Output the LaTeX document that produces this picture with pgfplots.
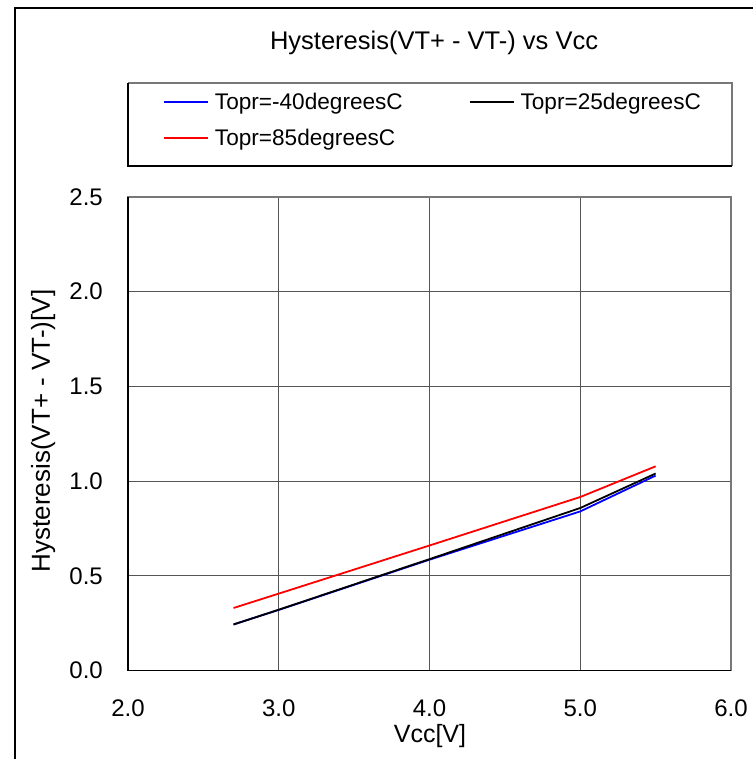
\documentclass[border=0pt]{standalone}
\usepackage{fontspec}
\setmainfont{Liberation Sans}
\usepackage{pgfplots}
\pgfplotsset{compat=1.18}

\definecolor{gridgray}{RGB}{85,85,85}
\definecolor{framegray}{RGB}{120,120,120}

\begin{document}
\begin{tikzpicture}[x=1bp,y=1bp]
\useasboundingbox (0,0) rectangle (753,759);
% outer chart frame (only left and top edges are visible)
\draw[line width=1.5bp] (15,0) -- (15,751) -- (753,751);
% legend frame
\draw[framegray,line width=1.2bp] (128,676) -- (732,676) -- (732,593);
\draw[black,line width=1.2bp] (128,676) -- (128,593) -- (732,593);

\begin{axis}[
    at={(128bp,88.5bp)}, anchor=south west,
    scale only axis, width=603bp, height=473.5bp,
    xmin=2, xmax=6, ymin=0, ymax=2.5,
    xtick={2,3,4,5,6}, ytick={0,0.5,1,1.5,2,2.5},
    major tick length=0pt,
    grid=major,
    grid style={gridgray, line width=1.1bp},
    axis line style={framegray, line width=1.1bp},
    tick label style={font=\fontsize{24bp}{28bp}\selectfont, inner sep=0pt},
    /pgf/number format/assume math mode=true,
    /pgf/number format/.cd, fixed, fixed zerofill, precision=1, /pgfplots/.cd,
    yticklabel style={anchor=east, xshift=-25bp},
    xticklabel style={anchor=north, yshift=-29.5bp},
    title={Hysteresis(VT+ - VT-) vs Vcc},
    title style={font=\fontsize{25.5bp}{30bp}\selectfont, at={(axis description cs:0.5075,1.2999)}, anchor=base, inner sep=0pt},
    xlabel={Vcc[V]},
    xlabel style={font=\fontsize{25bp}{30bp}\selectfont, at={(axis description cs:0.5008,-0.1531)}, anchor=base, inner sep=0pt},
    ylabel={Hysteresis(VT+ - VT-)[V]},
    ylabel style={font=\fontsize{26bp}{30bp}\selectfont, at={(axis description cs:-0.1294,0.506)}, anchor=base, rotate=0, inner sep=0pt},
    legend columns=2,
    legend cell align=left,
    legend image code/.code={\draw[#1] (0bp,0bp) -- (44bp,0bp);},
    legend style={at={(axis description cs:0.058,1.2197)}, anchor=north west,
        draw=none, fill=none, inner sep=0pt,
        font=\fontsize{22.6bp}{26bp}\selectfont,
        nodes={inner sep=0pt, anchor=west},
        row sep=18bp,
        /tikz/every odd column/.append style={column sep=6bp},
        /tikz/every even column/.append style={column sep=66bp}},
    clip=false,
]
\addplot[blue, line width=1.8bp] coordinates {(2.7,0.243) (3.0,0.320) (4.0,0.585) (5.0,0.840) (5.5,1.029)};
\addplot[black, line width=1.8bp] coordinates {(2.7,0.243) (3.0,0.321) (4.0,0.588) (5.0,0.858) (5.5,1.040)};
\addplot[red, line width=1.8bp] coordinates {(2.7,0.330) (3.0,0.406) (4.0,0.660) (5.0,0.916) (5.5,1.078)};
\legend{Topr=-40degreesC, Topr=25degreesC, Topr=85degreesC}
\draw[black, line width=1.3bp] (axis description cs:0,1) -- (axis description cs:0,0) -- (axis description cs:1,0);
\end{axis}
\end{tikzpicture}
\end{document}
